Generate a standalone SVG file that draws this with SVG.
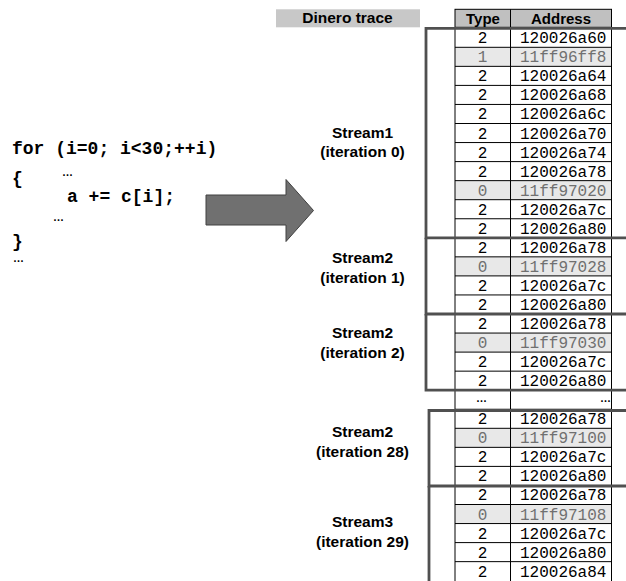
<svg xmlns="http://www.w3.org/2000/svg" width="626" height="581" viewBox="0 0 626 581">
  <style>
    .code { font-family: "Liberation Mono", "Courier New", monospace; font-weight: bold; font-size: 18px; fill: #000; }
    .ell { font-family: "Liberation Sans", Arial, sans-serif; font-weight: bold; font-size: 11px; fill: #000; }
    .lbl { font-family: "Liberation Sans", Arial, sans-serif; font-weight: bold; font-size: 15.5px; fill: #000; text-anchor: middle; }
    .hdr { font-family: "Liberation Sans", Arial, sans-serif; font-weight: bold; font-size: 15px; fill: #000; text-anchor: middle; }
    .cell { font-family: "Liberation Mono", "Courier New", monospace; font-size: 16px; fill: #000; }
    .typ { text-anchor: middle; }
    .dim { fill: #707070; }
    .grid { stroke: #000; stroke-width: 1; fill: none; }
    .band { fill: #e8e8e8; }
    .bracket { stroke: #505050; stroke-width: 2.8; fill: none; }
  </style>

  <rect width="626" height="581" fill="#fff"/>

  <!-- source loop -->
  <g id="code">
    <text class="code" x="12" y="154">for (i=0; i&lt;30;++i)</text>
    <text class="code" x="12" y="184">{</text>
    <text class="ell" x="62" y="176">…</text>
    <text class="code" x="67" y="201.5">a += c[i];</text>
    <text class="ell" x="53" y="221">…</text>
    <text class="code" x="12" y="247">}</text>
    <text class="ell" x="13" y="262">…</text>
  </g>

  <!-- big block arrow from the code to the trace -->
  <g id="connectors">
    <polygon points="206,195 286,195 286,179.5 313.5,210.5 286,241.5 286,225 206,225" fill="#707070" stroke="#404040" stroke-width="1"/>
  </g>

  <!-- caption above the stream labels -->
  <g id="trace-label">
    <rect x="276" y="9.3" width="144" height="18" fill="#c8c8c8"/>
    <text class="lbl" x="347.5" y="22.5">Dinero trace</text>
  </g>

  <!-- table header -->
  <g id="table-header">
    <rect x="455" y="9.3" width="156.5" height="18" fill="#c0c0c0" stroke="#000" stroke-width="1"/>
    <line class="grid" x1="510.5" y1="9.3" x2="510.5" y2="27.3"/>
    <text class="hdr" x="483" y="23.5">Type</text>
    <text class="hdr" x="561" y="23.5">Address</text>
  </g>

  <!-- table body -->
  <g id="table-body">
    <rect x="455" y="28.25" width="156.5" height="553" fill="#fff"/>
    <rect class="band" x="455" y="47.3" width="156.5" height="19.05"/>
    <rect class="band" x="455" y="180.65" width="156.5" height="19.05"/>
    <rect class="band" x="455" y="256.85" width="156.5" height="19.05"/>
    <rect class="band" x="455" y="333.05" width="156.5" height="19.05"/>
    <rect class="band" x="455" y="428.3" width="156.5" height="19.05"/>
    <rect class="band" x="455" y="504.5" width="156.5" height="19.05"/>
    <path class="grid" d="M455,28.25V581 M510.5,28.25V581 M611.5,28.25V581
      M455,47.3H611.5 M455,66.35H611.5 M455,85.4H611.5 M455,104.45H611.5
      M455,123.5H611.5 M455,142.55H611.5 M455,161.6H611.5 M455,180.65H611.5
      M455,199.7H611.5 M455,218.75H611.5 M455,237.8H611.5 M455,256.85H611.5
      M455,275.9H611.5 M455,294.95H611.5 M455,314H611.5 M455,333.05H611.5
      M455,352.1H611.5 M455,371.15H611.5 M455,390.2H611.5 M455,409.25H611.5
      M455,428.3H611.5 M455,447.35H611.5 M455,466.4H611.5 M455,485.45H611.5
      M455,504.5H611.5 M455,523.55H611.5 M455,542.6H611.5 M455,561.65H611.5"/>

    <g class="cell">
      <text class="typ" x="482.5" y="43.25">2</text><text x="520" y="43.25">120026a60</text>
      <text class="typ dim" x="482.5" y="62.3">1</text><text class="dim" x="520" y="62.3">11ff96ff8</text>
      <text class="typ" x="482.5" y="81.35">2</text><text x="520" y="81.35">120026a64</text>
      <text class="typ" x="482.5" y="100.4">2</text><text x="520" y="100.4">120026a68</text>
      <text class="typ" x="482.5" y="119.45">2</text><text x="520" y="119.45">120026a6c</text>
      <text class="typ" x="482.5" y="138.5">2</text><text x="520" y="138.5">120026a70</text>
      <text class="typ" x="482.5" y="157.55">2</text><text x="520" y="157.55">120026a74</text>
      <text class="typ" x="482.5" y="176.6">2</text><text x="520" y="176.6">120026a78</text>
      <text class="typ dim" x="482.5" y="195.65">0</text><text class="dim" x="520" y="195.65">11ff97020</text>
      <text class="typ" x="482.5" y="214.7">2</text><text x="520" y="214.7">120026a7c</text>
      <text class="typ" x="482.5" y="233.75">2</text><text x="520" y="233.75">120026a80</text>

      <text class="typ" x="482.5" y="252.8">2</text><text x="520" y="252.8">120026a78</text>
      <text class="typ dim" x="482.5" y="271.85">0</text><text class="dim" x="520" y="271.85">11ff97028</text>
      <text class="typ" x="482.5" y="290.9">2</text><text x="520" y="290.9">120026a7c</text>
      <text class="typ" x="482.5" y="309.95">2</text><text x="520" y="309.95">120026a80</text>

      <text class="typ" x="482.5" y="329">2</text><text x="520" y="329">120026a78</text>
      <text class="typ dim" x="482.5" y="348.05">0</text><text class="dim" x="520" y="348.05">11ff97030</text>
      <text class="typ" x="482.5" y="367.1">2</text><text x="520" y="367.1">120026a7c</text>
      <text class="typ" x="482.5" y="386.15">2</text><text x="520" y="386.15">120026a80</text>

      <text class="typ" x="482.5" y="424.25">2</text><text x="520" y="424.25">120026a78</text>
      <text class="typ dim" x="482.5" y="443.3">0</text><text class="dim" x="520" y="443.3">11ff97100</text>
      <text class="typ" x="482.5" y="462.35">2</text><text x="520" y="462.35">120026a7c</text>
      <text class="typ" x="482.5" y="481.4">2</text><text x="520" y="481.4">120026a80</text>

      <text class="typ" x="482.5" y="500.45">2</text><text x="520" y="500.45">120026a78</text>
      <text class="typ dim" x="482.5" y="519.5">0</text><text class="dim" x="520" y="519.5">11ff97108</text>
      <text class="typ" x="482.5" y="538.55">2</text><text x="520" y="538.55">120026a7c</text>
      <text class="typ" x="482.5" y="557.6">2</text><text x="520" y="557.6">120026a80</text>
      <text class="typ" x="482.5" y="576.65">2</text><text x="520" y="576.65">120026a84</text>
    </g>
    <text class="ell" x="476" y="402">…</text>
    <text class="ell" x="600" y="402">…</text>
  </g>

  <!-- stream brackets and labels -->
  <g id="stream1">
    <path class="bracket" d="M626,28.3H426V237.8H626"/>
    <text class="lbl" x="362.5" y="137.5">Stream1</text>
    <text class="lbl" x="362.5" y="156.5">(iteration 0)</text>
  </g>
  <g id="stream2-it1">
    <path class="bracket" d="M426,237.8V314H626"/>
    <text class="lbl" x="362.5" y="262.5">Stream2</text>
    <text class="lbl" x="362.5" y="282.5">(iteration 1)</text>
  </g>
  <g id="stream2-it2">
    <path class="bracket" d="M426,314V390.2H626"/>
    <text class="lbl" x="362.5" y="337.5">Stream2</text>
    <text class="lbl" x="362.5" y="357.5">(iteration 2)</text>
  </g>
  <g id="stream2-it28">
    <path class="bracket" d="M626,410.5H429V486H626"/>
    <text class="lbl" x="362.5" y="436.5">Stream2</text>
    <text class="lbl" x="362.5" y="456.5">(iteration 28)</text>
  </g>
  <g id="stream3-it29">
    <path class="bracket" d="M429,486V583"/>
    <text class="lbl" x="362.5" y="526.5">Stream3</text>
    <text class="lbl" x="362.5" y="546.5">(iteration 29)</text>
  </g>
</svg>
